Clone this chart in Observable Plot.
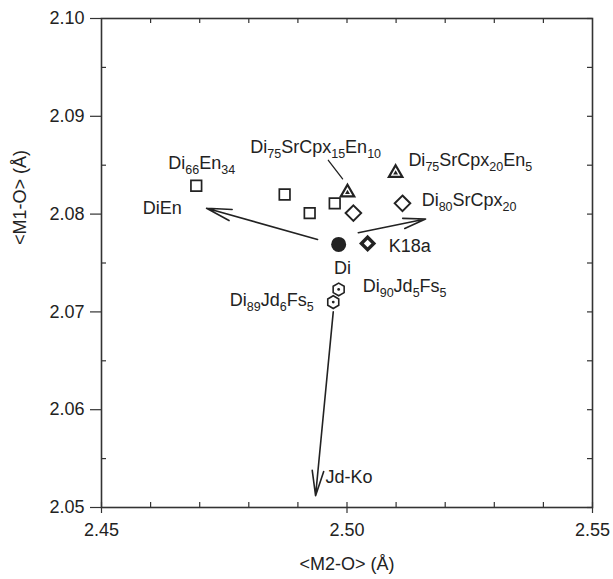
<!DOCTYPE html>
<html><head><meta charset="utf-8">
<script src="https://cdn.jsdelivr.net/npm/d3@7"></script>
<script src="https://cdn.jsdelivr.net/npm/@observablehq/plot@0.6"></script>
<style>body{margin:0;background:#fff}</style>
</head><body><div id="chart"></div>
<script>
// ---- data ----
const xDomain = [2.45, 2.55];
const yDomain = [2.05, 2.10];
const xMajorTicks = [2.45, 2.50, 2.55];
const xMinorTicks = [2.46, 2.47, 2.48, 2.49, 2.51, 2.52, 2.53, 2.54];
const xTopTicks = [2.46, 2.47, 2.48, 2.49, 2.50, 2.51, 2.52, 2.53, 2.54];
const yMajorTicks = [2.05, 2.06, 2.07, 2.08, 2.09, 2.10];
const yMinorTicks = [2.055, 2.065, 2.075, 2.085, 2.095];
const xTitle = "<M2-O> (Å)";
const yTitle = "<M1-O> (Å)";

const squareM2 = [2.4693, 2.4873, 2.4924, 2.4975];
const squareM1 = [2.0829, 2.0820, 2.0801, 2.0811];
const triangleM2 = [2.5001, 2.5099];
const triangleM1 = [2.0822, 2.0842];
const diamondM2 = [2.5013, 2.5113];
const diamondM1 = [2.0801, 2.0811];
const hexagonM2 = [2.4983, 2.4972];
const hexagonM1 = [2.0723, 2.0710];
const diM2 = [2.4983];
const diM1 = [2.0769];
const k18aM2 = [2.5042];
const k18aM1 = [2.0770];

const arrowM2Start = [2.4940, 2.5023, 2.4972];
const arrowM1Start = [2.0774, 2.0781, 2.0700];
const arrowM2End = [2.4714, 2.5160, 2.4936];
const arrowM1End = [2.0806, 2.0795, 2.0512];

const leaderM2 = [2.4962, 2.4991];
const leaderM1 = [2.0855, 2.0836];

const startLabels = ["Di_{66}En_{34}", "DiEn", "Di_{75}SrCpx_{15}En_{10}", "Di_{75}SrCpx_{20}En_{5}", "Di_{80}SrCpx_{20}", "K18a", "Di_{90}Jd_{5}Fs_{5}", "Jd-Ko"];
const startLabelM2 = [2.4636, 2.4584, 2.4803, 2.5125, 2.5152, 2.5085, 2.5032, 2.4956];
const startLabelM1 = [2.0852, 2.0806, 2.0868, 2.0855, 2.0814, 2.0767, 2.0726, 2.0531];
const endLabels = ["Di_{89}Jd_{6}Fs_{5}"];
const endLabelM2 = [2.4932];
const endLabelM1 = [2.0712];
const middleLabels = ["Di"];
const middleLabelM2 = [2.4991];
const middleLabelM1 = [2.0745];

// ---- build ----
const pts = (xs, ys) => xs.map((x, i) => ({x, y: ys[i]}));
const lbl = (ts, xs, ys) => ts.map((t, i) => ({t, x: xs[i], y: ys[i]}));
const arrows = arrowM2Start.map((x1, i) => ({x1, y1: arrowM1Start[i], x2: arrowM2End[i], y2: arrowM1End[i]}));
const ink = "#222";

const chart = Plot.plot({
  width: 613, height: 579,
  marginLeft: 101, marginRight: 21, marginTop: 18, marginBottom: 72,
  x: {domain: xDomain, axis: null},
  y: {domain: yDomain, axis: null},
  style: {fontFamily: "'Liberation Sans', Arial, sans-serif", fontSize: "18px", color: ink, background: "#fff"},
  marks: [
    Plot.frame({stroke: "#333", strokeWidth: 1.6}),
    // ticks
    Plot.ruleX(xMajorTicks, {x: d => d, insetTop: 484, insetBottom: -6, stroke: "#333", strokeWidth: 1.2}),
    Plot.ruleX(xMinorTicks, {x: d => d, insetTop: 484, stroke: "#333", strokeWidth: 1.2}),
    Plot.ruleX(xTopTicks, {x: d => d, insetBottom: 484, stroke: "#333", strokeWidth: 1.2}),
    Plot.ruleY(yMajorTicks, {y: d => d, insetLeft: -11, insetRight: 491, stroke: "#333", strokeWidth: 1.2}),
    Plot.ruleY(yMinorTicks, {y: d => d, insetRight: 486, stroke: "#333", strokeWidth: 1.2}),
    Plot.ruleY(yMajorTicks.concat(yMinorTicks), {y: d => d, insetLeft: 486, stroke: "#333", strokeWidth: 1.2}),
    // tick labels
    Plot.text(xMajorTicks, {x: d => d, frameAnchor: "bottom", dy: 28, text: d => d.toFixed(2), fill: ink}),
    Plot.text(yMajorTicks, {y: d => d, frameAnchor: "left", dx: -17, textAnchor: "end", text: d => d.toFixed(2), fill: ink}),
    // axis titles
    Plot.text([xTitle], {frameAnchor: "bottom", dy: 62, text: d => d, fill: ink}),
    Plot.text([yTitle], {frameAnchor: "left", dx: -81, dy: -18, rotate: -90, text: d => d, fill: ink}),
    // arrows and leader
    Plot.arrow(arrows, {x1: "x1", y1: "y1", x2: "x2", y2: "y2", stroke: ink, strokeWidth: 1.6, headLength: 24, headAngle: 26}),
    Plot.line(pts(leaderM2, leaderM1), {x: "x", y: "y", stroke: ink, strokeWidth: 1.3}),
    // symbols
    Plot.dot(pts(squareM2, squareM1), {x: "x", y: "y", symbol: "square", r: 6, stroke: ink, strokeWidth: 1.7, fill: "#fff"}),
    Plot.dot(pts(triangleM2, triangleM1), {x: "x", y: "y", symbol: "triangle", r: 5, stroke: ink, strokeWidth: 2.2, fill: "#fff"}),
    Plot.dot(pts(triangleM2, triangleM1), {x: "x", y: "y", symbol: "triangle", r: 1.8, fill: ink}),
    Plot.dot(pts(diamondM2, diamondM1), {x: "x", y: "y", symbol: "diamond2", r: 7, stroke: ink, strokeWidth: 2, fill: "#fff"}),
    Plot.dot(pts(k18aM2, k18aM1), {x: "x", y: "y", symbol: "diamond2", r: 5.6, stroke: ink, strokeWidth: 3.4, fill: "#fff"}),
    Plot.dot(pts(hexagonM2, hexagonM1), {x: "x", y: "y", symbol: "hexagon", r: 5.5, stroke: ink, strokeWidth: 1.6, fill: "#fff"}),
    Plot.dot(pts(hexagonM2, hexagonM1), {x: "x", y: "y", r: 1.4, fill: ink}),
    Plot.dot(pts(diM2, diM1), {x: "x", y: "y", r: 7.5, fill: ink}),
    // labels
    Plot.text(lbl(startLabels, startLabelM2, startLabelM1), {x: "x", y: "y", text: "t", textAnchor: "start", fill: ink}),
    Plot.text(lbl(endLabels, endLabelM2, endLabelM1), {x: "x", y: "y", text: "t", textAnchor: "end", fill: ink}),
    Plot.text(lbl(middleLabels, middleLabelM2, middleLabelM1), {x: "x", y: "y", text: "t", textAnchor: "middle", fill: ink})
  ]
});

// turn _{nn} into real subscripts
const NS = "http://www.w3.org/2000/svg";
chart.querySelectorAll("text").forEach(t => {
  const s = t.textContent;
  if (!s.includes("_{")) return;
  const parts = s.split(/(_\{[^}]*\})/).filter(p => p.length);
  t.textContent = "";
  let down = false;
  for (const p of parts) {
    const ts = document.createElementNS(NS, "tspan");
    const m = p.match(/^_\{(.*)\}$/);
    if (m) {
      ts.textContent = m[1];
      ts.setAttribute("font-size", "12.5");
      if (!down) { ts.setAttribute("dy", "5"); down = true; }
    } else {
      ts.textContent = p;
      if (down) { ts.setAttribute("dy", "-5"); down = false; }
    }
    t.appendChild(ts);
  }
});
document.getElementById("chart").appendChild(chart);
</script>
</body></html>
